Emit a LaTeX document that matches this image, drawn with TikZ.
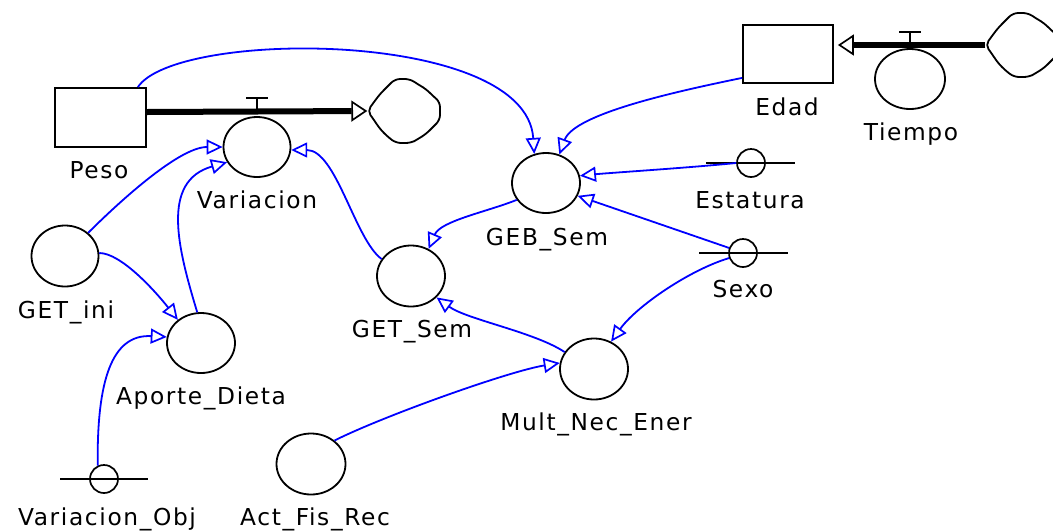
\documentclass[tikz,border=0pt]{standalone}
\usepackage{fontspec}
\setmainfont{DejaVu Sans}[LetterSpace=7]
\usetikzlibrary{arrows.meta,shapes.geometric}

\tikzset{
  aux/.style={draw=black, line width=1.8pt, ellipse, minimum width=68pt, minimum height=61pt, inner sep=0pt},
  stock/.style={draw=black, line width=1.8pt, rectangle, minimum width=90pt, minimum height=58pt, inner sep=0pt},
  const/.style={draw=black, circle, line width=1.7pt, minimum size=28pt, inner sep=0pt},
  cloudnode/.style={draw=none, ellipse, minimum width=73pt, minimum height=66pt, inner sep=0pt},
  cloudline/.style={draw=black, line width=1.8pt, rounded corners=5pt},
  lbl/.style={anchor=base, inner sep=0pt, font=\fontsize{23.3}{28}\selectfont, text=black},
  link/.style={draw=blue, line width=1.8pt, -{Triangle[open, length=16pt, width=15pt, line width=1.7pt]}},
  pipe/.style={draw=black, line width=6pt, -{Triangle[open, length=16pt, width=21pt, line width=1.7pt]}},
  valve/.style={draw=black, line width=1.9pt},
  bar/.style={draw=black, line width=1.7pt}
}

\begin{document}
\begin{tikzpicture}[x=1pt, y=-1pt]
\useasboundingbox (0,0) rectangle (1053,531);

% stocks
\node[stock, minimum width=91pt, minimum height=59pt] (peso) at (100.5,117.5) {};
\node[stock] (edad) at (788,54) {};

% sources and sinks
\node[cloudnode] (cloudA) at (404,111) {};
\node[cloudnode] (cloudB) at (1022,45) {};
\foreach \c in {cloudA, cloudB}
  \draw[cloudline, shift={(\c.center)}]
    (-36.5,0) -- (-30,-9) -- (-24,-17) -- (-16,-25) -- (-9,-32) -- (6,-32)
    -- (15,-26) -- (22,-22) -- (29,-15) -- (36,-9) -- (36,9) -- (29,16)
    -- (22,23) -- (14,28) -- (7,32) -- (-8,32) -- (-16,26) -- (-24,18)
    -- (-30,9) -- cycle;

% auxiliaries
\node[aux, minimum width=67pt, minimum height=60pt] (variacion) at (257,147) {};
\node[aux, minimum width=70pt, minimum height=60pt] (tiempo) at (910,79) {};
\node[aux, minimum height=60pt] (geb) at (546,183) {};
\node[aux] (getsem) at (411,276) {};
\node[aux] (mult) at (594,369) {};
\node[aux, minimum width=69pt] (act) at (311,464) {};
\node[aux, minimum width=67pt] (getini) at (65,256) {};
\node[aux, minimum height=60pt] (aporte) at (201,343) {};

% constants
\node[const] (estatura) at (751,163) {};
\node[const] (sexo) at (743,253) {};
\node[const] (varobj) at (104,479) {};
\draw[bar] ([xshift=-45pt]estatura.center) -- ([xshift=44pt]estatura.center);
\draw[bar] ([xshift=-44pt]sexo.center) -- ([xshift=45pt]sexo.center);
\draw[bar] ([xshift=-44pt]varobj.center) -- ([xshift=44pt]varobj.center);

% flows
\draw[pipe] ([yshift=5.5pt]peso.east) -- (cloudA.west);
\draw[pipe, shorten >=4pt] (cloudB.west) -- ([yshift=9pt]edad.east);

% valves
\coordinate (vA) at (variacion.center |- cloudA.west);
\draw[valve] (vA) -- ++(0,-13) coordinate (vAt);
\draw[valve] ([xshift=-11pt]vAt) -- ([xshift=11pt]vAt);
\coordinate (vB) at (tiempo.center |- cloudB.west);
\draw[valve] (vB) -- ++(0,-13) coordinate (vBt);
\draw[valve] ([xshift=-11pt]vBt) -- ([xshift=11pt]vBt);

% labels
\node[lbl] (l-peso) at (99,178) {Peso};
\node[lbl] (l-variacion) at (257,208) {Variacion};
\node[lbl] (l-edad) at (787,115) {Edad};
\node[lbl] (l-tiempo) at (911,140) {Tiempo};
\node[lbl] (l-estatura) at (750,208) {Estatura};
\node[lbl] (l-geb) at (547,245) {GEB\_Sem};
\node[lbl] (l-sexo) at (743,297) {Sexo};
\node[lbl] (l-getini) at (66,318) {GET\_ini};
\node[lbl] (l-aporte) at (201,404) {Aporte\_Dieta};
\node[lbl] (l-getsem) at (412,337) {GET\_Sem};
\node[lbl] (l-mult) at (596,430) {Mult\_Nec\_Ener};
\node[lbl] (l-varobj) at (107,525) {Variacion\_Obj};
\node[lbl] (l-act) at (315,525) {Act\_Fis\_Rec};

% information links
\draw[link] ([xshift=-9pt]peso.north east) .. controls +(38,-58) and +(-8,-125) .. (geb.112);
\draw[link] ([yshift=6pt]edad.south west) .. controls +(-63,13) and +(15,-41) .. (geb.65);
\draw[link] (estatura.west) .. controls +(-50,5) and +(30,-3) .. (geb.12);
\draw[link] (sexo.160) -- (geb.-22);
\draw[link] (sexo.200) .. controls +(-40,12) and +(25,-35) .. (mult.58);
\draw[link] (geb.-150) .. controls +(-30,12) and +(12,-28) .. (getsem.57);
\draw[link] (mult.150) .. controls +(-30,-20) and +(30,22) .. (getsem.-40);
\draw[link] (act.45) .. controls +(50,-25) and +(-50,8) .. (mult.170);
\draw[link] (getsem.150) .. controls +(-27,-20) and +(45,0) .. (variacion.-5);
\draw[link] (getini.45) .. controls +(25,-25) and +(-45,0) .. (variacion.180);
\draw[link] (aporte.97) .. controls +(-19,-63) and +(-67,19) .. (variacion.-153);
\draw[link] (getini.5) .. controls +(22,0) and +(-22,-28) .. (aporte.135);
\draw[link] (varobj.115) .. controls +(-1,-85) and +(-55,-3) .. (aporte.170);
\end{tikzpicture}
\end{document}
